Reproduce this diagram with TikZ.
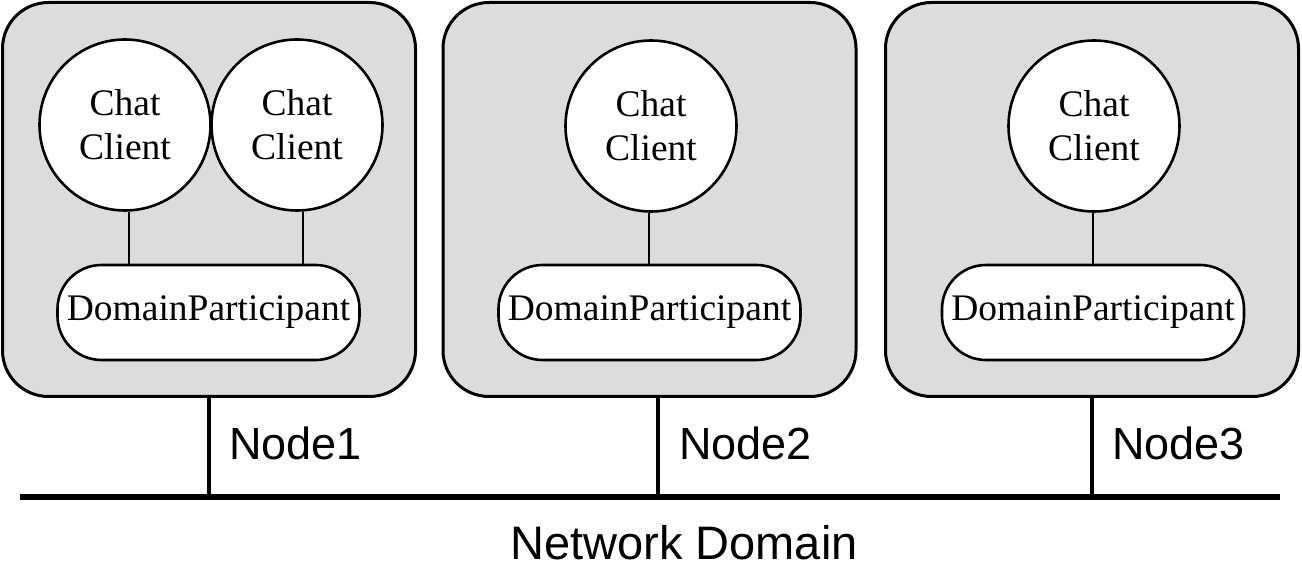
\documentclass[tikz,border=0pt]{standalone}
\usepackage{fontspec}
\setmainfont{Liberation Serif}
\newfontfamily\labelfont{Liberation Sans}
\definecolor{boxgray}{RGB}{220,220,220}
\begin{document}
\begin{tikzpicture}[x=1pt,y=-1pt,
  hostbox/.style={draw,line width=3pt,fill=boxgray,rounded corners=46pt,minimum width=413pt,minimum height=394pt,inner sep=0pt},
  client/.style={draw,line width=2.6pt,fill=white,circle,minimum size=171pt,inner sep=0pt,align=center,font=\fontsize{37.5}{44}\selectfont},
  dpbox/.style={draw,line width=2.6pt,fill=white,rounded corners=44pt,minimum width=302pt,minimum height=95pt,inner sep=0pt,font=\fontsize{37.5}{44}\selectfont},
  link/.style={line width=2.2pt},
  drop/.style={line width=4pt},
  bus/.style={line width=6pt},
  lbl/.style={font=\labelfont\fontsize{45}{50}\selectfont,anchor=west,inner sep=0pt}
]
\useasboundingbox (0,0) rectangle (1302,577);
% host boxes
\node[hostbox] (box1) at (209,199.5) {};
\node[hostbox] (box2) at (649.5,199.5) {};
\node[hostbox] (box3) at (1092,199.5) {};
% domain participants
\node[dpbox] (dp1) at (208.5,312.5) {DomainParticipant};
\node[dpbox] (dp2) at (649.5,312.5) {DomainParticipant};
\node[dpbox] (dp3) at (1093,312.5) {DomainParticipant};
% links (drawn before clients so they start at circle edge)
\node[client] (c1) at (125,125) {Chat\\Client};
\node[client] (c2) at (297,125) {Chat\\Client};
\node[client] (c3) at (651,126) {Chat\\Client};
\node[client] (c4) at (1094,126) {Chat\\Client};
\draw[link] ([xshift=4pt]c1.south) -- ([xshift=4pt]c1.south |- dp1.north);
\draw[link] ([xshift=6pt]c2.south) -- ([xshift=6pt]c2.south |- dp1.north);
\draw[link] ([xshift=-2pt]c3.south) -- ([xshift=-2pt]c3.south |- dp2.north);
\draw[link] ([xshift=-1pt]c4.south) -- ([xshift=-1pt]c4.south |- dp3.north);
% bus
\coordinate (busL) at (20,497);
\coordinate (busR) at (1280,497);
\draw[bus] (busL) -- (busR);
\draw[drop] (box1.south) -- (box1.south |- busL);
\draw[drop] ([xshift=8.5pt]box2.south) -- ([xshift=8.5pt]box2.south |- busL);
\draw[drop] (box3.south) -- (box3.south |- busL);
% labels
\node[lbl] (n1) at (229,443) {Node1};
\node[lbl] (n2) at (679,443) {Node2};
\node[lbl] (n3) at (1112,443) {Node3};
\node[font=\labelfont\fontsize{47}{52}\selectfont,inner sep=0pt] (nd) at (684,543) {Network Domain};
\end{tikzpicture}
\end{document}
